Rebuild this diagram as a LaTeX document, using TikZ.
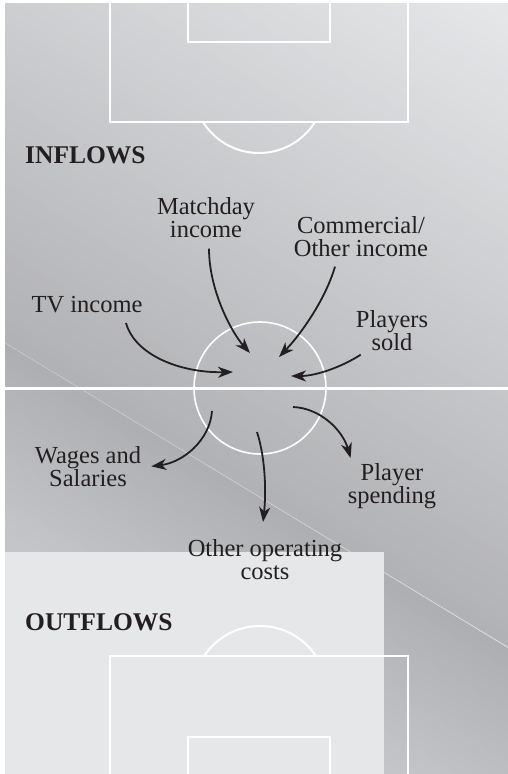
\documentclass[tikz,border=0pt]{standalone}
\usepackage{fontspec}
\setmainfont{Liberation Serif}
\usetikzlibrary{arrows.meta}
\usetikzlibrary{positioning}

\definecolor{ink}{HTML}{231F20}
\definecolor{upDark}{HTML}{B1B2B5}
\definecolor{upLight}{HTML}{E7E8EA}
\definecolor{lowDark}{HTML}{AEAFB2}
\definecolor{lowLight}{HTML}{C4C5C8}
\definecolor{boxfill}{HTML}{E6E7E9}
\definecolor{foldline}{HTML}{C9CACC}

\tikzset{
  flowtext/.style={font=\fontsize{24.5}{23}\selectfont, align=center,
    inner sep=0pt, anchor=north, text=ink},
  sectiontext/.style={font=\fontsize{25.5}{26}\selectfont\bfseries,
    inner sep=0pt, anchor=base west, text=ink},
  flow/.style={draw=ink, line width=1.8pt,
    -{Stealth[length=15pt,width=11pt,inset=4.5pt]}},
  pitchline/.style={draw=white, line width=2pt},
}

\begin{document}
\begin{tikzpicture}[x=1pt, y=-1pt]
  \useasboundingbox (0,0) rectangle (508,774);
  \fill[white] (0,0) rectangle (508,774);

  % shaded pitch, folded along the diagonal
  \begin{scope}
    \clip (5,3) -- (508,3) -- (508,647) -- (5,343) -- cycle;
    \foreach \d in {0,4,...,560} {
      \pgfmathtruncatemacro\p{min(100,\d/5.56)}
      \fill[upLight!\p!upDark]
        ({-508+0.518*\d},{32-0.855*\d}) -- ({1031+0.518*\d},{965-0.855*\d})
        -- ({1031+0.518*(\d+5)},{965-0.855*(\d+5)})
        -- ({-508+0.518*(\d+5)},{32-0.855*(\d+5)}) -- cycle;
    }
  \end{scope}
  \begin{scope}
    \clip (5,343) -- (508,647) -- (508,774) -- (5,774) -- cycle;
    \foreach \d in {0,4,...,400} {
      \pgfmathtruncatemacro\p{min(100,\d/1.6)}
      \fill[lowLight!\p!lowDark]
        ({-508-0.518*\d},{32+0.855*\d}) -- ({1031-0.518*\d},{965+0.855*\d})
        -- ({1031-0.518*(\d+5)},{965+0.855*(\d+5)})
        -- ({-508-0.518*(\d+5)},{32+0.855*(\d+5)}) -- cycle;
    }
  \end{scope}
  \draw[foldline, line width=0.5pt] (5,343) -- (508,647);
  \fill[boxfill] (5,552) rectangle (384,774);

  % pitch markings
  \begin{scope}
    \clip (5,3) rectangle (508,774);
    \draw[pitchline] (110,0) |- (408,122) -- (408,0);
    \draw[pitchline] (188,0) |- (330,42) -- (330,0);
    \draw[pitchline] (110,774) |- (408,656) -- (408,774);
    \draw[pitchline] (188,774) |- (330,737) -- (330,774);
    \draw[pitchline, line width=3pt] (5,388.5) -- (508,388.5);
  \end{scope}
  \begin{scope}
    \clip (0,122) rectangle (508,300);
    \draw[pitchline] (259,87) circle[radius=66pt];
  \end{scope}
  \begin{scope}
    \clip (0,500) rectangle (508,656);
    \draw[pitchline] (260,693) circle[radius=67pt];
  \end{scope}
  \draw[pitchline, line width=1.6pt] (260,388) circle[radius=66pt];

  % labels
  \node[sectiontext] (inflows) at (25,163) {INFLOWS};
  \node[sectiontext] (outflows) at (25,630) {OUTFLOWS};
  \node[flowtext] (matchday) at (206,197) {Matchday\\income};
  \node[flowtext] (commercial) at (361,216) {Commercial/\\Other income};
  \node[flowtext] (tv) at (87,296) {TV income};
  \node[flowtext] (sold) at (392,310) {Players\\sold};
  \node[flowtext] (wages) at (88,446) {Wages and\\Salaries};
  \node[flowtext] (spending) at (392,463) {Player\\spending};
  \node[flowtext] (otherop) at (265,539) {Other operating\\costs};

  % money in and out of the centre spot
  \coordinate (in-tv) at (233,372);
  \coordinate (in-match) at (250,353);
  \coordinate (in-comm) at (279,357);
  \coordinate (in-sold) at (291,376);
  \coordinate (out-wages) at (212,411);
  \coordinate (out-other) at (257,432);
  \coordinate (out-spend) at (293,407);

  \draw[flow] ([shift={(39,10)}]tv.south) .. controls +(9,32) and +(-53,1) .. (in-tv);
  \draw[flow] ([shift={(3,11)}]matchday.south) .. controls +(0,42) and +(-18,-20) .. (in-match);
  \draw[flow] ([shift={(-26,10)}]commercial.south) .. controls +(-10,34) and +(21,-22) .. (in-comm);
  \draw[flow] ([shift={(5,4)}]sold.south west) .. controls +(-20,13) and +(24,0) .. (in-sold);
  \draw[flow] (out-wages) .. controls +(-2,29) and +(32,-4) .. ([xshift=10]wages.east);
  \draw[flow] (out-other) .. controls +(9,28) and +(3,-27) .. ([shift={(-2,-17)}]otherop.north);
  \draw[flow] (out-spend) .. controls +(27,1) and +(-8,-28) .. ([shift={(3,-5)}]spending.north west);
\end{tikzpicture}
\end{document}
